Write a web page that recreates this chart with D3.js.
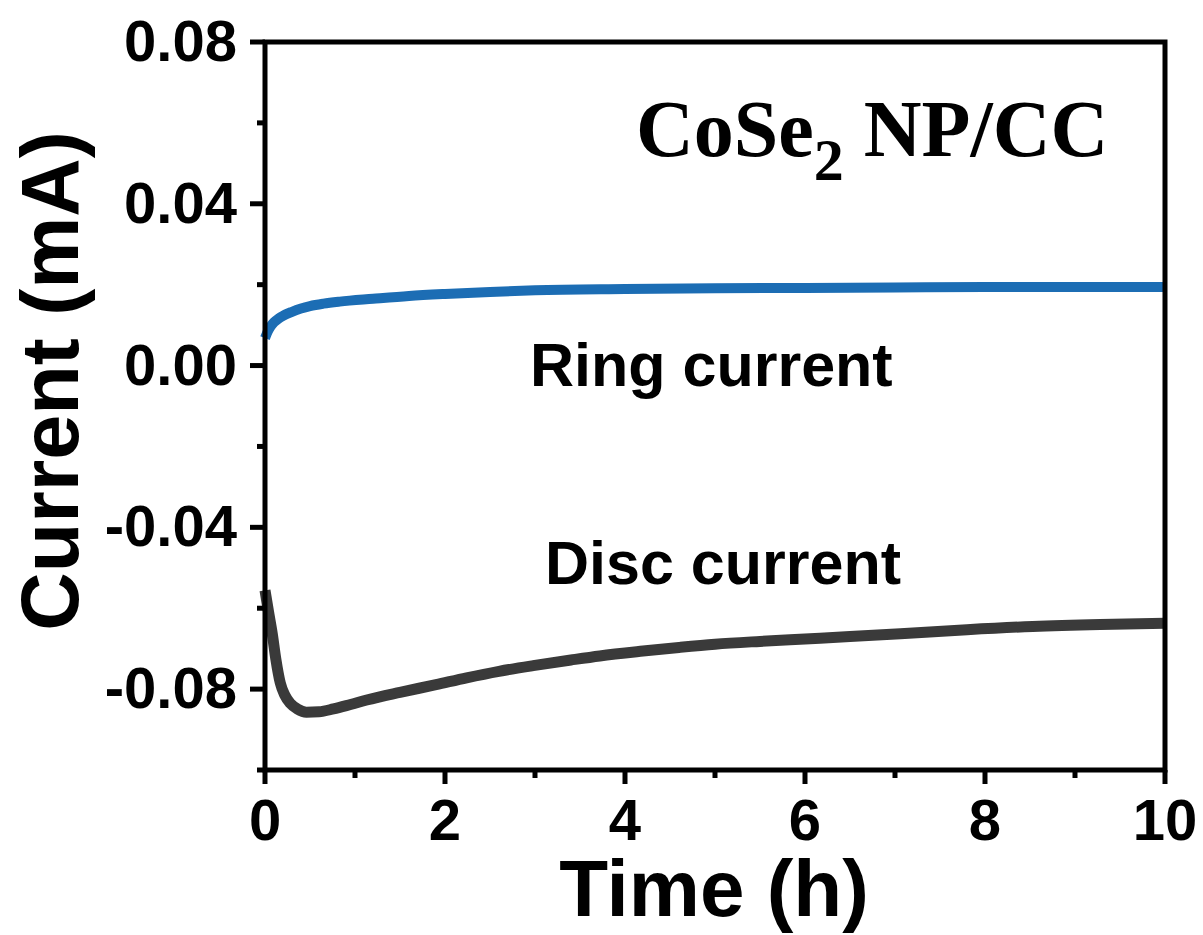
<!DOCTYPE html>
<html>
<head>
<meta charset="utf-8">
<script src="https://cdn.jsdelivr.net/npm/d3@7"></script>
<style>
  body { margin: 0; background: #fff; }
  text { font-family: "Liberation Sans", Arial, sans-serif; font-weight: bold; fill: #000; }
</style>
</head>
<body>
<svg width="1203" height="935"></svg>
<script>
// data (time in h, current in mA)
var discTime = [0, 0.04, 0.08, 0.12, 0.17, 0.22, 0.28, 0.36, 0.46, 0.6, 0.76, 0.95, 1.13, 1.5, 1.9, 2.24, 2.6, 2.98, 3.4, 3.72, 4.2, 4.6, 5, 5.5, 6, 6.5, 7.06, 7.8, 8.53, 9.28, 10];
var discCurrent = [-0.0556, -0.061, -0.0662, -0.0725, -0.0785, -0.0815, -0.0835, -0.0849, -0.0857, -0.0856, -0.0849, -0.0838, -0.0827, -0.0808, -0.0789, -0.0772, -0.0756, -0.0742, -0.0728, -0.0718, -0.0706, -0.0697, -0.0689, -0.0682, -0.0676, -0.0670, -0.0663, -0.0653, -0.0645, -0.0640, -0.0637];

var ringTime = [0, 0.03, 0.06, 0.1, 0.15, 0.2, 0.3, 0.4, 0.5, 0.65, 0.83, 1.2, 1.6, 2, 2.5, 3, 4, 5, 6, 7, 8, 9, 10];
var ringCurrent = [0.0068, 0.0084, 0.0096, 0.0107, 0.0116, 0.0123, 0.0133, 0.0141, 0.0147, 0.0153, 0.0158, 0.0165, 0.0172, 0.0177, 0.0182, 0.0186, 0.0189, 0.0191, 0.0192, 0.0193, 0.0194, 0.0194, 0.0194];

var xTicks = [0, 2, 4, 6, 8, 10];
var xMinor = [1, 3, 5, 7, 9];
var yTicks = [0.08, 0.04, 0.00, -0.04, -0.08];
var yMinor = [0.06, 0.02, -0.02, -0.06, -0.10];

var svg = d3.select("svg"),
    marginLeft = 265, marginTop = 42,
    width = 900, height = 728;

var x = d3.scaleLinear().domain([0, 10]).range([0, width]);
var y = d3.scaleLinear().domain([-0.10, 0.08]).range([height, 0]);

var g = svg.append("g").attr("transform", "translate(" + marginLeft + "," + marginTop + ")");

// lines
var line = d3.line()
    .x(function(d) { return x(d[0]); })
    .y(function(d) { return y(d[1]); })
    .curve(d3.curveMonotoneX);

g.append("path")
    .datum(d3.zip(discTime, discCurrent))
    .attr("fill", "none")
    .attr("stroke", "#3a3a3a")
    .attr("stroke-width", 11)
    .attr("stroke-linejoin", "round")
    .attr("d", line);

g.append("path")
    .datum(d3.zip(ringTime, ringCurrent))
    .attr("fill", "none")
    .attr("stroke", "#1c6db4")
    .attr("stroke-width", 10)
    .attr("stroke-linejoin", "round")
    .attr("d", line);

// frame
g.append("rect")
    .attr("width", width).attr("height", height)
    .attr("fill", "none").attr("stroke", "#000").attr("stroke-width", 5);

// x axis
var xAxis = g.append("g").attr("transform", "translate(0," + height + ")");
xAxis.selectAll(".maj").data(xTicks).enter().append("line")
    .attr("x1", function(d) { return x(d); }).attr("x2", function(d) { return x(d); })
    .attr("y1", 0).attr("y2", 14)
    .attr("stroke", "#000").attr("stroke-width", 5);
xAxis.selectAll(".min").data(xMinor).enter().append("line")
    .attr("x1", function(d) { return x(d); }).attr("x2", function(d) { return x(d); })
    .attr("y1", 0).attr("y2", 8)
    .attr("stroke", "#000").attr("stroke-width", 5);
xAxis.selectAll("text").data(xTicks).enter().append("text")
    .attr("x", function(d) { return x(d); })
    .attr("y", 70)
    .attr("text-anchor", "middle")
    .attr("font-size", "58px")
    .text(function(d) { return d; });

// y axis
var yAxis = g.append("g");
yAxis.selectAll(".maj").data(yTicks).enter().append("line")
    .attr("x1", 0).attr("x2", -15)
    .attr("y1", function(d) { return y(d); }).attr("y2", function(d) { return y(d); })
    .attr("stroke", "#000").attr("stroke-width", 5);
yAxis.selectAll(".min").data(yMinor).enter().append("line")
    .attr("x1", 0).attr("x2", -8)
    .attr("y1", function(d) { return y(d); }).attr("y2", function(d) { return y(d); })
    .attr("stroke", "#000").attr("stroke-width", 5);
yAxis.selectAll("text").data(yTicks).enter().append("text")
    .attr("x", -28)
    .attr("y", function(d) { return y(d) + 19; })
    .attr("text-anchor", "end")
    .attr("font-size", "58px")
    .text(function(d) { return d3.format(".2f")(d).replace("\u2212", "-"); });

// axis titles
svg.append("text")
    .attr("x", 714).attr("y", 916)
    .attr("text-anchor", "middle")
    .attr("font-size", "80px")
    .text("Time (h)");

svg.append("text")
    .attr("transform", "translate(78,381) rotate(-90)")
    .attr("text-anchor", "middle")
    .attr("font-size", "81px")
    .text("Current (mA)");

// labels inside plot
svg.append("text")
    .attr("x", 530).attr("y", 386)
    .attr("font-size", "61px")
    .text("Ring current");

svg.append("text")
    .attr("x", 545).attr("y", 584)
    .attr("font-size", "61px")
    .text("Disc current");

var title = svg.append("text")
    .attr("x", 636).attr("y", 156)
    .style("font-family", "'Liberation Serif', 'Times New Roman', serif")
    .attr("font-size", "80px");
title.append("tspan").text("CoSe");
title.append("tspan").attr("font-size", "60px").attr("dy", 24).text("2");
title.append("tspan").attr("dy", -24).text(" NP/CC");
</script>
</body>
</html>
